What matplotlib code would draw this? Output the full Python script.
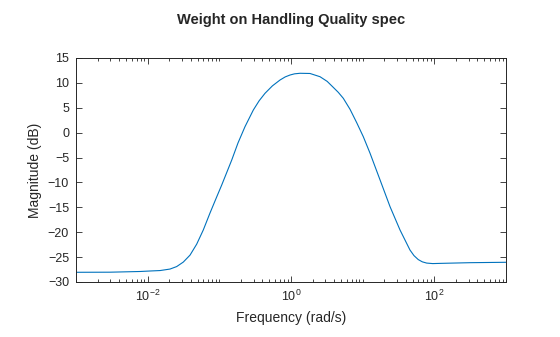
import numpy as np
import matplotlib
matplotlib.use("Agg")
import matplotlib.pyplot as plt
from matplotlib.ticker import FixedLocator, LogLocator, NullFormatter, LogFormatterSciNotation

plt.rcParams["font.family"] = ["Liberation Sans", "DejaVu Sans"]
plt.rcParams["mathtext.fontset"] = "custom"
plt.rcParams["mathtext.rm"] = "Liberation Sans"
plt.rcParams["mathtext.it"] = "Liberation Sans:italic"
plt.rcParams["mathtext.bf"] = "Liberation Sans:bold"

# magnitude (rad/s, dB)
freq = [0.001, 0.00298, 0.00782, 0.0108, 0.0149, 0.0205, 0.0254, 0.0314, 0.0390, 0.0483,
        0.0597, 0.0741, 0.0918, 0.108, 0.149, 0.182, 0.228, 0.298, 0.359, 0.434,
        0.55, 0.703, 0.83, 0.968, 1.12, 1.336, 1.842, 2.54, 3.2, 3.89,
        4.57, 5.37, 6.66, 8.26, 10.2, 12.65, 17.5, 24.1, 33.2, 45.7,
        52.0, 59.7, 68.0, 78.2, 95.0, 120, 315, 1000]
mag_db = [-28.05, -28.03, -27.89, -27.79, -27.7, -27.4, -26.9, -26.0, -24.6, -22.4,
          -19.55, -16.14, -12.92, -10.51, -5.49, -2.08, 1.20, 4.55, 6.4, 7.91,
          9.4, 10.58, 11.2, 11.58, 11.82, 11.93, 11.89, 11.24, 10.3, 9.1,
          8.1, 6.9, 4.7, 2.0, -0.8, -4.1, -9.51, -14.87, -19.55, -23.57,
          -24.7, -25.5, -25.95, -26.2, -26.3, -26.26, -26.12, -26.04]

x_major = [1e-2, 1e0, 1e2]
y_ticks = [-30, -25, -20, -15, -10, -5, 0, 5, 10, 15]

dark = "#262626"

fig = plt.figure(figsize=(5.6, 3.37), dpi=100)
ax = fig.add_axes([76/560, 1-282/337, 430/560, 224/337])
ax.plot(freq, mag_db, color="#0072BD", lw=0.8)

ax.set_xscale("log")
ax.set_xlim(1e-3, 1e3)
ax.set_ylim(-30, 15)
ax.xaxis.set_major_locator(FixedLocator(x_major))
ax.xaxis.set_major_formatter(LogFormatterSciNotation())
ax.xaxis.set_minor_locator(LogLocator(base=10, subs=np.arange(1, 10), numticks=20))
ax.xaxis.set_minor_formatter(NullFormatter())
ax.set_yticks(y_ticks)

ax.tick_params(which="both", direction="in", top=True, right=True, colors=dark,
               labelsize=9, width=0.6)
ax.tick_params(which="major", length=4, pad=5)
ax.tick_params(which="minor", length=2)
for s in ax.spines.values():
    s.set_color(dark)
    s.set_linewidth(0.7)

ax.set_xlabel("Frequency (rad/s)", fontsize=10, color=dark, labelpad=5)
ax.set_ylabel("Magnitude (dB)", fontsize=10, color=dark, labelpad=4)
fig.text(291/560, 1-20/337, "Weight on Handling Quality spec", ha="center", va="center",
         fontsize=10.5, fontweight="bold", color=dark)

fig.savefig("out.png", dpi=100)
